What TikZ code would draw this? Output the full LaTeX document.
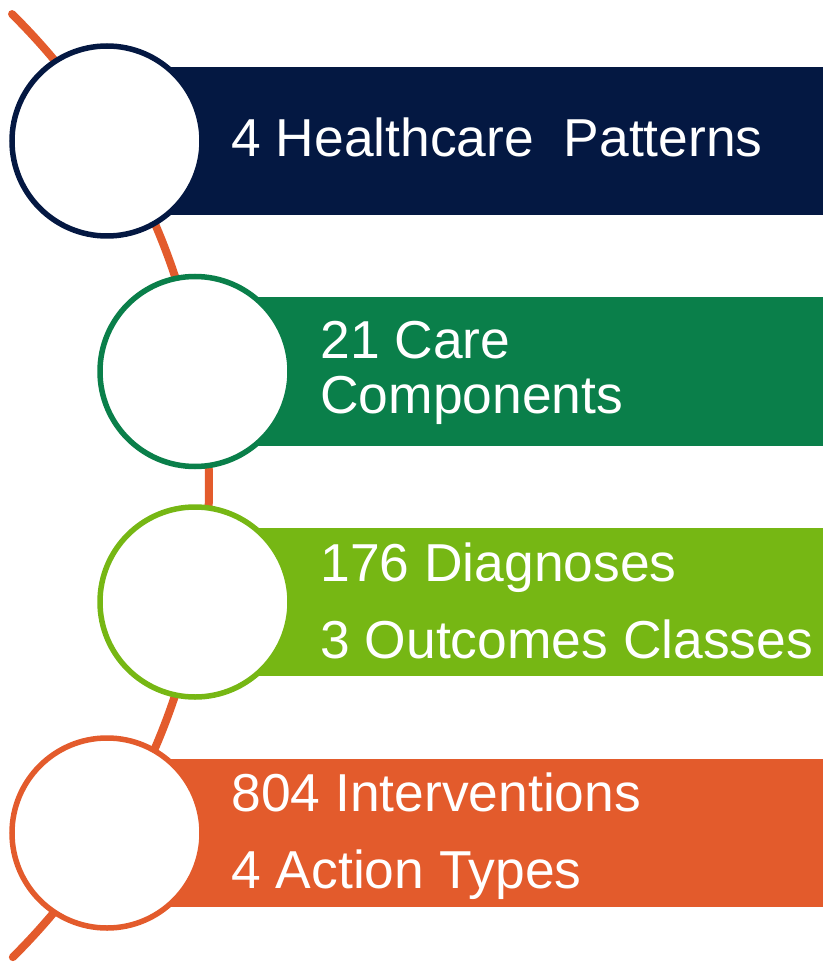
\documentclass[tikz,border=0pt]{standalone}
\usepackage{fontspec}
\setmainfont{Liberation Sans}
\definecolor{cpnavy}{RGB}{4,24,66}
\definecolor{cpgreen}{RGB}{10,127,74}
\definecolor{cplime}{RGB}{118,183,20}
\definecolor{cporange}{RGB}{227,91,44}
\usetikzlibrary{positioning}

\begin{document}
\begin{tikzpicture}[x=0.5pt, y=-0.5pt,
  bar/.style={rectangle, minimum height=74pt, inner sep=0pt, anchor=west},
  ring/.style={circle, draw, fill=white, line width=2.75pt,
               minimum size=95pt, inner sep=0pt},
  bartext/.style={text=white, align=left, anchor=base west, inner sep=0pt},
  spine/.style={draw=cporange, line width=4pt, line cap=round}
]
\useasboundingbox (0,0) rectangle (823,962);

% Orange spine behind the rings
\coordinate (hub) at (-455,486);
\draw[spine] (hub) ++(-45.3:664) arc[start angle=-45.3, end angle=45.2, radius=664];

% Bars
\node[bar, fill=cpnavy,   minimum width=358pt] (bar1) at (107,141) {};
\node[bar, fill=cpgreen,  minimum width=314pt] (bar2) at (195,371.5) {};
\node[bar, fill=cplime,   minimum width=314pt] (bar3) at (195,602) {};
\node[bar, fill=cporange, minimum width=358pt] (bar4) at (107,833) {};

% Rings
\node[ring, draw=cpnavy]   (ring1) at (107,141) {};
\node[ring, draw=cpgreen]  (ring2) at (195,371.5) {};
\node[ring, draw=cplime]   (ring3) at (195,602) {};
\node[ring, draw=cporange] (ring4) at (107,833) {};

% Labels (base anchor sits on the last line)
\node[bartext, font=\fontsize{26.7}{37.5}\selectfont] (txt1) at (231,157) {4 Healthcare\ \ Patterns};
\node[bartext, font=\fontsize{26.7}{27.5}\selectfont] (txt2) at (320,413) {21 Care\\Components};
\node[bartext, font=\fontsize{26.7}{38.5}\selectfont] (txt3) at (320,658) {176 Diagnoses\\3 Outcomes Classes};
\node[bartext, font=\fontsize{26.7}{38.5}\selectfont] (txt4) at (231,888) {804 Interventions\\4 Action Types};
\end{tikzpicture}
\end{document}
